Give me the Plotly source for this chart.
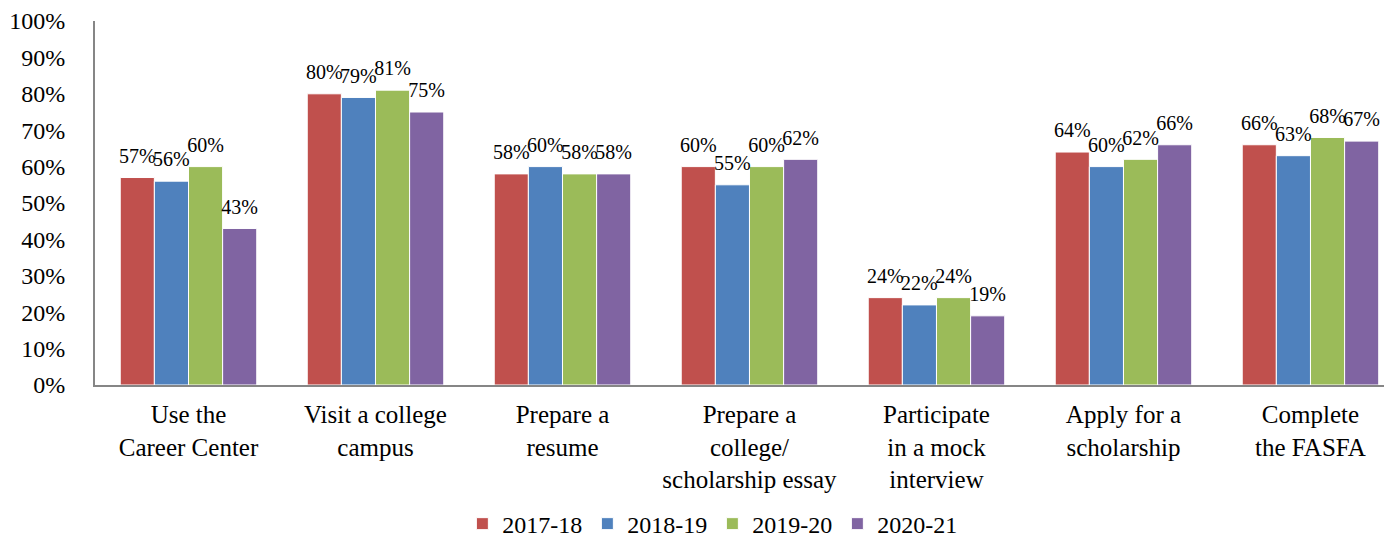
import plotly.graph_objects as go

categories = ["Use the<br>Career Center", "Visit a college<br>campus", "Prepare a<br>resume",
              "Prepare a<br>college/<br>scholarship essay", "Participate<br>in a mock<br>interview",
              "Apply for a<br>scholarship", "Complete<br>the FASFA"]
series_names = ["2017-18", "2018-19", "2019-20", "2020-21"]
v_2017_18 = [0.57, 0.80, 0.58, 0.60, 0.24, 0.64, 0.66]
v_2018_19 = [0.56, 0.79, 0.60, 0.55, 0.22, 0.60, 0.63]
v_2019_20 = [0.60, 0.81, 0.58, 0.60, 0.24, 0.62, 0.68]
v_2020_21 = [0.43, 0.75, 0.58, 0.62, 0.19, 0.66, 0.67]
colors = ["#C0504D", "#4F81BD", "#9BBB59", "#8064A2"]

FONT = "Liberation Serif"
fig = go.Figure()
all_vals = [v_2017_18, v_2018_19, v_2019_20, v_2020_21]
for i, (name, vals, c) in enumerate(zip(series_names, all_vals, colors)):
    fig.add_trace(go.Bar(
        name=name, x=categories, y=vals, offsetgroup=str(i),
        marker=dict(color=c, line=dict(color="white", width=1))))
for i, (name, vals) in enumerate(zip(series_names, all_vals)):
    fig.add_trace(go.Scatter(
        x=categories, y=vals, offsetgroup=str(i), mode="markers+text",
        marker=dict(size=14, opacity=0), text=[f"{round(v*100)}%" for v in vals],
        textposition="top center", textfont=dict(family=FONT, size=20, color="black"),
        showlegend=False, hoverinfo="skip", cliponaxis=False))

fig.update_layout(
    width=1384, height=531, barmode="group", scattermode="group", bargap=0.27, bargroupgap=0,
    margin=dict(l=87, r=0, t=13, b=154, autoexpand=False),
    plot_bgcolor="white", paper_bgcolor="white",
    font=dict(family=FONT, size=22, color="black"),
    showlegend=True,
    legend=dict(orientation="h", x=0.476, xanchor="center", y=-0.382, yanchor="middle",
                font=dict(family=FONT, size=24), traceorder="normal"),
    xaxis=dict(range=[-0.5, 6.436], showline=True, linecolor="#868686", linewidth=2,
               ticks="", tickfont=dict(family=FONT, size=25), ticklabelstandoff=6,
               automargin=False),
    yaxis=dict(range=[0, 1], dtick=0.1, tickformat=".0%", showgrid=False, zeroline=False,
               showline=True, linecolor="#868686", linewidth=2, ticks="",
               tickfont=dict(family=FONT, size=24), ticklabelstandoff=23, automargin=False),
)
fig.write_html("out.html")
